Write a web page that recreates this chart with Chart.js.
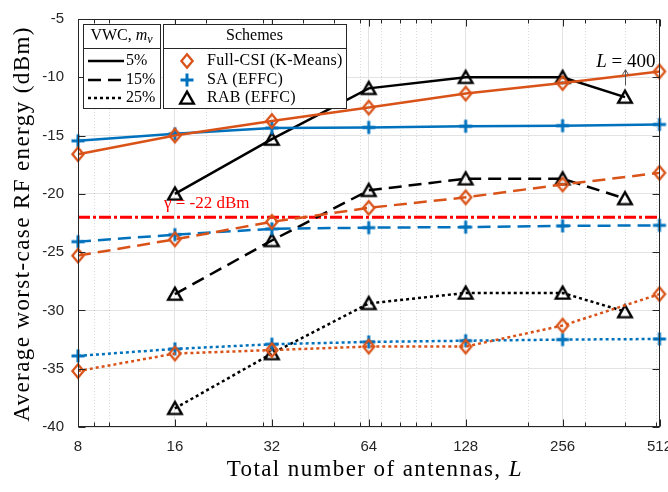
<!DOCTYPE html>
<html><head><meta charset="utf-8">
<script src="https://cdn.jsdelivr.net/npm/chart.js@4/dist/chart.umd.min.js"></script>
<style>html,body{margin:0;padding:0;background:#fff;}canvas{display:block;}</style>
</head><body>
<canvas id="c" width="668" height="492"></canvas>
<script>
// ---- data ----
const antennasFull = [8, 16, 32, 64, 128, 256, 512];
const antennasRAB = [16, 32, 64, 128, 256, 400];
const xTickValues = [8, 16, 32, 64, 128, 256, 512];
const xMinorValues = [9, 10, 20, 30, 40, 50, 60, 70, 80, 90, 100, 200, 300, 400, 500];
const yTickValues = [-5, -10, -15, -20, -25, -30, -35, -40];

const fullCSI_5  = [-16.6, -15.0, -13.75, -12.6, -11.4, -10.5, -9.5];
const sa_5       = [-15.45, -14.85, -14.35, -14.3, -14.2, -14.15, -14.05];
const rab_5      = [-20.0, -15.3, -10.95, -10.0, -10.0, -11.7];
const fullCSI_15 = [-25.3, -23.9, -22.4, -21.2, -20.3, -19.2, -18.2];
const sa_15      = [-24.1, -23.5, -23.0, -22.9, -22.85, -22.75, -22.7];
const rab_15     = [-28.6, -24.0, -19.7, -18.7, -18.7, -20.4];
const fullCSI_25 = [-35.2, -33.7, -33.4, -33.1, -33.1, -31.3, -28.6];
const sa_25      = [-33.9, -33.3, -32.9, -32.7, -32.6, -32.5, -32.45];
const rab_25     = [-38.4, -33.7, -29.4, -28.5, -28.5, -30.1];
const gammaThreshold = -22;
const annotatedL = 400;

const vwcLabels = ['5%', '15%', '25%'];
const schemeLabels = ['Full-CSI (K-Means)', 'SA (EFFC)', 'RAB (EFFC)'];

// ---- styles ----
const ORANGE = '#D95319', BLUE = '#0072BD', BLACK = '#000000', RED = '#FF0000', AX = '#262626';
const SERIF = '"Liberation Serif", "Times New Roman", serif';
const dashes = [[], [13, 7], [3, 3]];
const LW = 2.5;

function mk(w, h, draw) { const c = document.createElement('canvas'); c.width = w; c.height = h; draw(c.getContext('2d')); return c; }
const diamondImg = mk(18, 20, g => { g.strokeStyle = ORANGE; g.lineWidth = 2.3; g.lineJoin = 'miter';
  g.beginPath(); g.moveTo(9, 3.3); g.lineTo(14.6, 10); g.lineTo(9, 16.7); g.lineTo(3.4, 10); g.closePath(); g.stroke(); });
const triImg = mk(20, 20, g => { g.strokeStyle = BLACK; g.lineWidth = 2.4; g.lineJoin = 'miter';
  g.beginPath(); g.moveTo(10, 3.6); g.lineTo(16.8, 15.6); g.lineTo(3.2, 15.6); g.closePath(); g.stroke(); });
const plusImg = mk(16, 16, g => { g.strokeStyle = BLUE; g.lineWidth = 3;
  g.beginPath(); g.moveTo(8, 1.5); g.lineTo(8, 14.5); g.moveTo(1.5, 8); g.lineTo(14.5, 8); g.stroke(); });

function pts(xs, ys) { return xs.map((x, i) => ({ x: x, y: ys[i] })); }
function ds(xs, ys, color, dash, img) {
  return { data: pts(xs, ys), borderColor: color, borderWidth: LW, borderDash: dash, borderCapStyle: 'butt',
    pointStyle: img, pointRadius: 6, backgroundColor: 'transparent', fill: false, tension: 0, clip: false };
}
const datasets = [
  ds(antennasFull, fullCSI_25, ORANGE, dashes[2], diamondImg),
  ds(antennasFull, sa_25, BLUE, dashes[2], plusImg),
  ds(antennasRAB, rab_25, BLACK, dashes[2], triImg),
  ds(antennasFull, fullCSI_15, ORANGE, dashes[1], diamondImg),
  ds(antennasFull, sa_15, BLUE, dashes[1], plusImg),
  ds(antennasRAB, rab_15, BLACK, dashes[1], triImg),
  ds(antennasFull, fullCSI_5, ORANGE, dashes[0], diamondImg),
  ds(antennasFull, sa_5, BLUE, dashes[0], plusImg),
  ds(antennasRAB, rab_5, BLACK, dashes[0], triImg),
  { data: [{ x: xTickValues[0], y: gammaThreshold }, { x: xTickValues[xTickValues.length - 1], y: gammaThreshold }],
    borderColor: RED, borderWidth: 3, borderDash: [12, 3, 3, 3], pointRadius: 0, fill: false, clip: false }
];

function setLS(ctx, v) { if ('letterSpacing' in ctx) ctx.letterSpacing = v + 'px'; }

const decor = {
  id: 'decor',
  beforeDatasetsDraw(chart) {
    const { ctx, chartArea: a, scales: { x } } = chart;
    ctx.save();
    ctx.strokeStyle = 'rgba(38,38,38,0.16)'; ctx.lineWidth = 1; ctx.setLineDash([1, 2]);
    xMinorValues.forEach(v => { const p = Math.round(x.getPixelForValue(v)) + 0.5;
      ctx.beginPath(); ctx.moveTo(p, a.top); ctx.lineTo(p, a.bottom); ctx.stroke(); });
    ctx.restore();
  },
  afterDraw(chart) {
    const { ctx, chartArea: a, scales: { x, y } } = chart;
    ctx.save();
    // box + inward ticks
    ctx.strokeStyle = AX; ctx.lineWidth = 1; ctx.setLineDash([]);
    const L = Math.round(a.left) + 0.5, R = Math.round(a.right) - 0.5, T = Math.round(a.top) + 0.5, B = Math.round(a.bottom) - 0.5;
    ctx.strokeRect(L, T, R - L, B - T);
    ctx.beginPath();
    xTickValues.forEach(v => { const p = Math.round(x.getPixelForValue(v)) + 0.5;
      ctx.moveTo(p, B); ctx.lineTo(p, B - 7); ctx.moveTo(p, T); ctx.lineTo(p, T + 7); });
    xMinorValues.forEach(v => { const p = Math.round(x.getPixelForValue(v)) + 0.5;
      ctx.moveTo(p, B); ctx.lineTo(p, B - 4); ctx.moveTo(p, T); ctx.lineTo(p, T + 4); });
    yTickValues.forEach(v => { const p = Math.round(y.getPixelForValue(v)) + 0.5;
      ctx.moveTo(L, p); ctx.lineTo(L + 7, p); ctx.moveTo(R, p); ctx.lineTo(R - 7, p); });
    ctx.stroke();

    // axis titles
    ctx.fillStyle = '#000'; ctx.textBaseline = 'middle';
    setLS(ctx, 1.4);
    const xt1 = 'Total number of antennas, ', xt2 = 'L';
    ctx.font = '23px ' + SERIF; const w1 = ctx.measureText(xt1).width;
    ctx.font = 'italic 23px ' + SERIF; const w2 = ctx.measureText(xt2).width;
    let sx = (a.left + a.right) / 2 + 6 - (w1 + w2) / 2;
    ctx.textAlign = 'left';
    ctx.font = '23px ' + SERIF; ctx.fillText(xt1, sx, 470);
    ctx.font = 'italic 23px ' + SERIF; ctx.fillText(xt2, sx + w1, 470);
    ctx.save(); ctx.translate(23, (a.top + a.bottom) / 2 + 1); ctx.rotate(-Math.PI / 2);
    ctx.textAlign = 'center'; ctx.font = '23px ' + SERIF;
    ctx.fillText('Average worst-case RF energy (dBm)', 0, 0); ctx.restore();
    setLS(ctx, 0);

    // gamma annotation
    ctx.fillStyle = RED; ctx.font = '17px ' + SERIF; ctx.textAlign = 'left';
    ctx.fillText('\u03B3 = -22 dBm', x.getPixelForValue(16) - 11, y.getPixelForValue(gammaThreshold) - 14);

    // L = 400 annotation with arrow
    const ax = Math.round(x.getPixelForValue(annotatedL)) + 0.5;
    const yTop = y.getPixelForValue(-9.35), yBot = y.getPixelForValue(-10.7);
    ctx.strokeStyle = '#555'; ctx.lineWidth = 1; ctx.beginPath(); ctx.moveTo(ax, yBot); ctx.lineTo(ax, yTop); ctx.stroke();
    ctx.beginPath(); ctx.moveTo(ax - 3, yTop + 5); ctx.lineTo(ax, yTop); ctx.lineTo(ax + 3, yTop + 5); ctx.stroke();
    ctx.fillStyle = '#000'; ctx.textAlign = 'left';
    ctx.font = '19px ' + SERIF; const lw2 = ctx.measureText(' = 400').width;
    ctx.font = 'italic 19px ' + SERIF; const lw1 = ctx.measureText('L').width;
    const lx = a.right - 4 - lw1 - lw2, ly = 62;
    ctx.fillText('L', lx, ly); ctx.font = '19px ' + SERIF; ctx.fillText(' = 400', lx + lw1, ly);

    // legend boxes
    function box(x0, y0, x1, y1, sep) {
      ctx.fillStyle = '#fff'; ctx.fillRect(x0, y0, x1 - x0, y1 - y0);
      ctx.strokeStyle = AX; ctx.lineWidth = 1; ctx.setLineDash([]);
      ctx.strokeRect(x0 + 0.5, y0 + 0.5, x1 - x0, y1 - y0);
      ctx.beginPath(); ctx.moveTo(x0, sep + 0.5); ctx.lineTo(x1, sep + 0.5); ctx.stroke();
    }
    box(83, 24, 160, 108, 48);
    box(163, 24, 346, 108, 48);
    const rows = [61, 80, 98];
    ctx.fillStyle = '#000'; ctx.textBaseline = 'middle';
    // VWC header
    ctx.font = '16px ' + SERIF; const hw1 = ctx.measureText('VWC, ').width;
    ctx.font = 'italic 16px ' + SERIF; const hw2 = ctx.measureText('m').width;
    ctx.font = 'italic 12px ' + SERIF; const hw3 = ctx.measureText('v').width;
    let hx = 121.5 - (hw1 + hw2 + hw3) / 2;
    ctx.textAlign = 'left';
    ctx.font = '16px ' + SERIF; ctx.fillText('VWC, ', hx, 36);
    ctx.font = 'italic 16px ' + SERIF; ctx.fillText('m', hx + hw1, 36);
    ctx.font = 'italic 12px ' + SERIF; ctx.fillText('v', hx + hw1 + hw2, 40);
    ctx.font = '16px ' + SERIF; ctx.textAlign = 'center'; ctx.fillText('Schemes', 254.5, 36);
    ctx.textAlign = 'left';
    vwcLabels.forEach((t, i) => {
      ctx.strokeStyle = BLACK; ctx.lineWidth = LW; ctx.setLineDash(dashes[i]); ctx.lineCap = 'butt';
      ctx.beginPath(); ctx.moveTo(88, rows[i]); ctx.lineTo(124, rows[i]); ctx.stroke();
      ctx.setLineDash([]);
      ctx.fillStyle = '#000'; ctx.fillText(t, 126, rows[i]);
    });
    setLS(ctx, 0.3);
    [diamondImg, plusImg, triImg].forEach((img, i) => {
      ctx.drawImage(img, 187 - img.width / 2, rows[i] - img.height / 2);
      ctx.fillText(schemeLabels[i], 207, rows[i]);
    });
    setLS(ctx, 0);
    ctx.restore();
  }
};

const tickFont = { family: 'Liberation Sans', size: 15 };
new Chart(document.getElementById('c'), {
  type: 'line',
  data: { datasets },
  options: {
    responsive: false, animation: false, devicePixelRatio: 1,
    layout: { padding: { top: 19, right: 6, left: 0, bottom: 0 } },
    plugins: { legend: { display: false }, tooltip: { enabled: false } },
    scales: {
      x: { type: 'logarithmic', min: 8, max: 512,
        afterBuildTicks: s => { s.ticks = xTickValues.map(v => ({ value: v })); },
        afterFit: s => { s.height = 65; s.paddingLeft = 0; s.paddingRight = 0; },
        ticks: { callback: v => String(v), autoSkip: false, maxRotation: 0, padding: 11, color: AX, font: tickFont },
        grid: { color: '#e3e3e3', lineWidth: 1, drawTicks: false },
        border: { display: false } },
      y: { type: 'linear', min: -40, max: -5,
        afterBuildTicks: s => { s.ticks = yTickValues.map(v => ({ value: v })); },
        afterFit: s => { s.width = 78; s.paddingTop = 0; s.paddingBottom = 0; },
        ticks: { callback: v => String(v), padding: 14, color: AX, font: tickFont },
        grid: { color: '#e3e3e3', lineWidth: 1, drawTicks: false },
        border: { display: false } }
    }
  },
  plugins: [decor]
});
</script>
</body></html>
